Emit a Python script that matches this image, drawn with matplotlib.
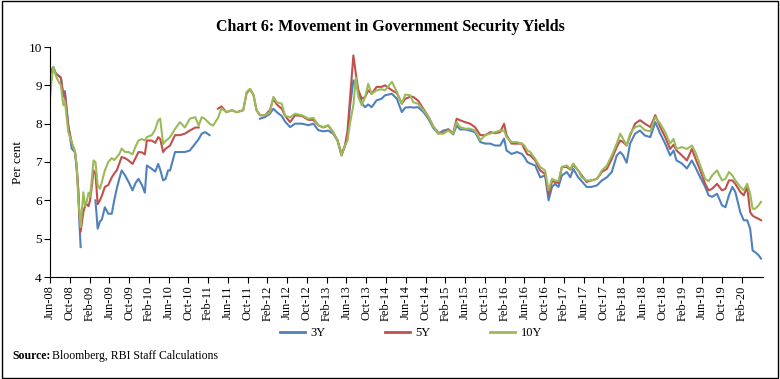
import numpy as np
import matplotlib
matplotlib.use("Agg")
import matplotlib.pyplot as plt
from matplotlib.patches import Rectangle
from matplotlib.lines import Line2D

nan = np.nan
# months since Jun-2008
months = [0, 0.3, 0.67, 1.2, 1.7, 2.2, 2.7, 3.0, 3.7, 4.4, 5.06, 5.4, 5.7, 6.0, 6.2,
          6.75, 7.1, 7.4, 7.8, 8.1, 8.5, 8.8, 9.2, 9.65, 10.1, 10.5, 11.1, 11.8, 12.5,
          13.0, 13.5, 14.0, 14.5, 15.2, 15.9, 16.7, 17.3, 17.9, 18.6, 19.2, 19.6, 20.6,
          21.3, 21.9, 22.3, 22.9, 23.4, 23.9, 24.3, 25.3, 26.3, 27.3, 28.3, 29.4, 30.1,
          30.7, 31.4, 32.3, 33.0, 34.0, 34.7, 35.7, 36.8, 37.8, 39.1, 39.8, 40.5, 41.2,
          41.8, 42.5, 43.5, 44.5, 45.2, 45.9, 46.9, 47.6, 48.6, 49.6, 51.0, 52.3, 53.3,
          54.3, 55.3, 56.3, 57.3, 58.2, 59.0, 59.7, 60.2, 60.7, 61.4, 61.9, 62.4, 63.1,
          63.8, 64.4, 65.1, 66.1, 67.1, 67.8, 69.2, 70.2, 71.2, 71.9, 72.9, 73.5, 74.5,
          75.6, 76.6, 77.6, 78.6, 79.6, 80.6, 81.6, 82.3, 83.0, 84.0, 85.0, 86.0, 87.1,
          88.1, 89.1, 90.1, 91.1, 91.9, 92.4, 93.4, 94.5, 95.5, 96.0, 96.6, 97.2, 98.2,
          99.2, 100.2, 100.9, 101.6, 102.2, 102.9, 103.6, 104.6, 105.3, 105.9, 106.9,
          107.6, 108.6, 109.6, 110.7, 111.7, 112.7, 113.7, 114.7, 115.4, 116.0, 116.7,
          117.4, 118.4, 119.4, 120.4, 121.5, 122.5, 123.5, 124.5, 125.5, 126.2, 126.8,
          127.9, 128.9, 129.9, 130.6, 131.6, 132.6, 133.3, 134.0, 135.0, 136.0, 136.7,
          137.4, 138.1, 138.7, 139.7, 140.4, 141.1, 141.7, 142.2, 142.7, 143.4, 143.9]

y3 = [9.35, 9.4, 9.48, 9.3, 9.26, 9.2, 8.74, 8.85, 7.95, 7.35, 7.25, 6.8, 6.3, 5.3, 4.78,
      nan, nan, nan, nan, nan, nan, nan, 6.0, 5.26, 5.45, 5.5, 5.82, 5.65, 5.65,
      6.0, 6.3, 6.55, 6.78, 6.65, 6.48, 6.26, 6.45, 6.56, 6.4, 6.2, 6.91, 6.82,
      6.75, 6.95, 6.8, 6.52, 6.56, 6.78, 6.78, 7.26, 7.26, 7.26, 7.3, 7.48, 7.6,
      7.74, 7.78, 7.7, nan, nan, nan, nan, nan, nan, nan, nan, nan, nan,
      nan, 8.13, 8.17, 8.26, 8.39, 8.3, 8.2, 8.05, 7.91, 8.0, 8.0, 7.96, 8.0,
      7.83, 7.8, 7.82, 7.74, 7.56, 7.17, 7.43, 7.6, 8.43, 9.13, 9.0, 8.87, 8.52,
      8.43, 8.5, 8.43, 8.61, 8.65, 8.74, 8.78, 8.65, 8.3, 8.42, 8.43, 8.42, 8.43,
      8.3, 8.12, 7.88, 7.74, 7.82, 7.85, 7.72, 7.95, 7.85, 7.85, 7.82, 7.78, 7.52,
      7.48, 7.48, 7.43, 7.43, 7.61, 7.3, 7.21, 7.26, 7.21, 7.13, 7.0, 6.96, 6.91,
      6.6, 6.65, 6.0, 6.35, 6.43, 6.35, 6.65, 6.74, 6.6, 6.82, 6.6,
      6.5, 6.35, 6.35, 6.39, 6.52, 6.6, 6.74, 7.17, 7.26, 7.17, 6.98,
      7.48, 7.74, 7.82, 7.69, 7.65, 8.04, 7.74, 7.48, 7.17, 7.3, 7.04,
      6.96, 6.83, 7.04, 6.87, 6.6, 6.35, 6.13, 6.09, 6.17, 5.87, 5.82,
      6.13, 6.35, 6.22, 5.69, 5.48, 5.48, 5.26, 4.69, 4.65, 4.57, 4.48]

y5 = [9.3, 9.35, 9.45, 9.3, 9.25, 9.2, 8.7, 8.8, 7.95, 7.5, 7.26, 6.9, 6.31, 5.5, 5.18,
      5.7, 5.85, 5.9, 5.85, 6.0, 6.4, 6.78, 6.7, 5.9, 6.0, 6.12, 6.35, 6.4, 6.6,
      6.7, 6.78, 6.95, 7.13, 7.1, 7.04, 6.95, 7.1, 7.26, 7.25, 7.2, 7.56, 7.56,
      7.5, 7.65, 7.6, 7.26, 7.35, 7.39, 7.43, 7.7, 7.7, 7.74, 7.82, 7.9, 7.9,
      nan, nan, nan, nan, 8.39, 8.45, 8.3, 8.35, 8.3, 8.35, 8.8, 8.9, 8.74,
      8.35, 8.22, 8.22, 8.35, 8.65, 8.5, 8.39, 8.2, 8.04, 8.22, 8.2, 8.1, 8.1,
      7.96, 7.9, 7.95, 7.78, 7.56, 7.2, 7.43, 7.8, 8.61, 9.78, 9.3, 8.87, 8.65,
      8.7, 8.87, 8.78, 8.96, 8.96, 9.0, 8.87, 8.8, 8.52, 8.65, 8.7, 8.7, 8.6,
      8.38, 8.18, 7.92, 7.76, 7.75, 7.85, 7.75, 8.13, 8.09, 8.04, 8.0, 7.91, 7.7,
      7.7, 7.78, 7.75, 7.78, 8.0, 7.7, 7.48, 7.48, 7.48, 7.34, 7.2, 7.17, 7.04,
      6.78, 6.69, 6.15, 6.5, 6.48, 6.45, 6.87, 6.87, 6.8, 6.92, 6.78,
      6.65, 6.48, 6.52, 6.56, 6.74, 6.82, 7.08, 7.39, 7.56, 7.52, 7.43,
      7.69, 8.0, 8.09, 8.0, 7.91, 8.22, 7.91, 7.65, 7.34, 7.45, 7.3,
      7.17, 7.04, 7.34, 7.1, 6.78, 6.43, 6.26, 6.3, 6.43, 6.26, 6.3,
      6.52, 6.52, 6.43, 6.22, 6.13, 6.35, 5.69, 5.6, 5.56, 5.52, 5.48]

y10 = [8.65, 9.1, 9.48, 9.25, 9.1, 9.0, 8.48, 8.6, 7.78, 7.52, 7.26, 6.9, 6.1, 5.6, 5.3,
       6.21, 5.85, 5.95, 6.2, 6.1, 6.6, 7.04, 7.0, 6.39, 6.3, 6.48, 6.78, 7.0, 7.1,
       7.05, 7.13, 7.2, 7.35, 7.26, 7.26, 7.2, 7.4, 7.56, 7.6, 7.56, 7.65, 7.7,
       7.85, 8.09, 8.13, 7.47, 7.55, 7.6, 7.65, 7.86, 8.04, 7.9, 8.13, 8.17, 7.95,
       8.17, 8.12, 8.0, 7.95, 8.15, 8.4, 8.3, 8.35, 8.3, 8.35, 8.83, 8.91, 8.74,
       8.35, 8.22, 8.22, 8.3, 8.7, 8.56, 8.52, 8.2, 8.17, 8.26, 8.22, 8.13, 8.15,
       7.96, 7.91, 7.96, 7.78, 7.56, 7.17, 7.43, 7.56, 8.0, 8.48, 9.2, 8.7, 8.48,
       8.7, 9.04, 8.78, 8.87, 8.9, 8.87, 9.09, 8.83, 8.52, 8.76, 8.74, 8.56, 8.52,
       8.35, 8.17, 7.91, 7.74, 7.74, 7.82, 7.74, 8.04, 7.91, 7.87, 7.87, 7.82, 7.57,
       7.7, 7.74, 7.78, 7.82, 7.82, 7.65, 7.52, 7.52, 7.48, 7.43, 7.3, 7.26, 7.08,
       6.87, 6.78, 6.26, 6.56, 6.52, 6.5, 6.87, 6.91, 6.82, 6.96, 6.78,
       6.6, 6.52, 6.52, 6.56, 6.78, 6.91, 7.17, 7.48, 7.74, 7.6, 7.43,
       7.74, 7.91, 7.95, 7.83, 7.8, 8.17, 8.0, 7.78, 7.48, 7.6, 7.34,
       7.39, 7.34, 7.43, 7.26, 6.91, 6.56, 6.5, 6.65, 6.78, 6.52, 6.56,
       6.74, 6.65, 6.52, 6.35, 6.26, 6.43, 6.17, 5.78, 5.78, 5.87, 5.96]

tick_labels = ["Jun-08", "Oct-08", "Feb-09", "Jun-09", "Oct-09", "Feb-10", "Jun-10", "Oct-10",
               "Feb-11", "Jun-11", "Oct-11", "Feb-12", "Jun-12", "Oct-12", "Feb-13", "Jun-13",
               "Oct-13", "Feb-14", "Jun-14", "Oct-14", "Feb-15", "Jun-15", "Oct-15", "Feb-16",
               "Jun-16", "Oct-16", "Feb-17", "Jun-17", "Oct-17", "Feb-18", "Jun-18", "Oct-18",
               "Feb-19", "Jun-19", "Oct-19", "Feb-20"]
series_names = ["3Y", "5Y", "10Y"]
colors = ["#4F81BD", "#C0504D", "#9BBB59"]

serif = ["Liberation Serif", "DejaVu Serif"]
plt.rcParams['font.family'] = serif

fig = plt.figure(figsize=(7.8, 3.79), dpi=100)
ax = fig.add_axes([50/780, 1-277/379, (763-50)/780, (277-47)/379])

for vals, c, n in zip([y3, y5, y10], colors, series_names):
    ax.plot(months, vals, color=c, lw=1.5, label=n)

ax.set_xlim(0, 144.3)
ax.set_ylim(4, 10)
ax.set_yticks(range(4, 11))
ax.set_xticks(np.arange(len(tick_labels)) * 4)
ax.set_xticklabels(tick_labels, rotation=90, fontsize=9)
ax.tick_params(axis='y', labelsize=9.5, length=4, direction='out', pad=2)
ax.tick_params(axis='x', length=4, direction='out', pad=2)
for s in ['top', 'right']:
    ax.spines[s].set_visible(False)
ax.set_ylabel("Per cent", fontsize=9.5, labelpad=3)

fig.text(0.5, 1-27/379, "Chart 6: Movement in Government Security Yields",
         ha='center', va='center', fontsize=11.5, fontweight='bold')

handles = [Line2D([0], [0], color=c, lw=2) for c in colors]
fig.legend(handles, series_names, loc='center', bbox_to_anchor=(0.527, 1-333/379),
           ncol=3, frameon=False, fontsize=9, handlelength=2.0, columnspacing=4.8,
           handletextpad=0.4)

t1 = fig.text(12/780, 1-356/379, "Source:", fontsize=8.5, fontweight='bold', va='center')
fig.canvas.draw()
bb = t1.get_window_extent()
fig.text((bb.x1 + 2)/780, 1-356/379, "Bloomberg, RBI Staff Calculations", fontsize=8.5, va='center')

fig.patches.append(Rectangle((0.002, 0.003), 0.996, 0.994, transform=fig.transFigure,
                             fill=False, edgecolor='black', lw=1))

fig.savefig("out.png", dpi=100)
